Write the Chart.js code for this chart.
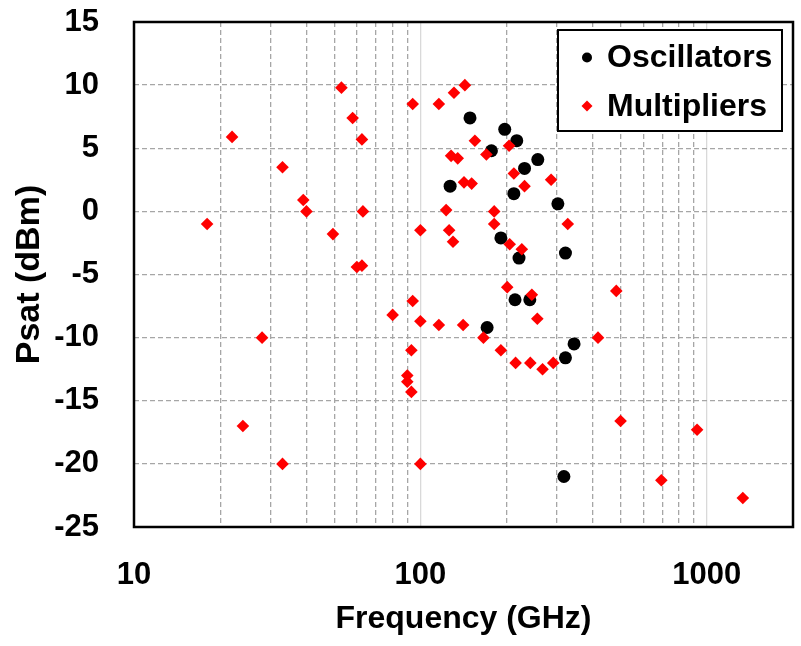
<!DOCTYPE html>
<html>
<head>
<meta charset="utf-8">
<script src="https://cdn.jsdelivr.net/npm/chart.js@4.4.1/dist/chart.umd.min.js"></script>
<style>
  html, body { margin: 0; padding: 0; background: #ffffff; }
  #wrap { width: 801px; height: 646px; position: relative; }
</style>
</head>
<body>
<div id="wrap"><canvas id="c" width="801" height="646"></canvas></div>
<script>
// ---- Data ----
const oscillatorFreq = [127, 149, 171, 177, 191, 197, 212, 214, 217, 221, 231, 241, 257, 302, 317, 321, 321, 344];
const oscillatorPsat = [2, 7.4, -9.2, 4.8, -2.1, 6.5, 1.4, -7, 5.6, -3.7, 3.4, -7, 4.1, 0.6, -21, -3.3, -11.6, -10.5];

const multiplierFreq = [18, 22, 24, 28, 33, 33, 39, 40, 49.5, 53, 58, 60, 62.5, 62.5, 63, 80, 90, 90, 93, 93,
  94, 94, 100, 100, 100, 116, 116, 123, 126, 128, 130, 131, 135, 141, 142, 143, 151, 155, 166, 170,
  181, 181, 191, 201, 204, 205, 212, 215, 226, 231, 242, 245, 256, 267, 286, 291, 327, 417, 483, 500,
  694, 925, 1336];
const multiplierPsat = [-1, 5.9, -17, -10, 3.5, -20, 0.9, 0, -1.8, 9.8, 7.4, -4.4, -4.3, 5.7, 0, -8.2, -13, -13.5, -11, -14.3,
  8.5, -7.1, -1.5, -8.7, -20, -9, 8.5, 0.1, -1.5, 4.4, -2.4, 9.4, 4.2, -9, 2.3, 10, 2.2, 5.6, -10, 4.5,
  0, -1, -11, -6, 5.2, -2.6, 3, -12, -3, 2, -12, -6.6, -8.5, -12.5, 2.5, -12, -1, -10, -6.3, -16.6,
  -21.3, -17.3, -22.7];

const seriesLabels = ['Oscillators', 'Multipliers'];
const xTickLabels = [10, 100, 1000];
const xRange = [10, 2000];
const yRange = [-25, 15];
const yStep = 5;
const xTitle = 'Frequency (GHz)';
const yTitle = 'Psat (dBm)';

// ---- Helpers ----
const FONT = "'Liberation Sans', Arial, sans-serif";
const toPoints = (xs, ys) => xs.map((x, i) => ({ x: x, y: ys[i] }));
const isDecade = (v) => Math.abs(Math.log10(v) - Math.round(Math.log10(v))) < 1e-9;
const isWholeMantissa = (v) => {
  const m = v / Math.pow(10, Math.floor(Math.log10(v) + 1e-9));
  return Math.abs(m - Math.round(m)) < 1e-6;
};

const frame = {
  id: 'frame',
  beforeDatasetsDraw(chart) {
    const { ctx, chartArea: a } = chart;
    ctx.save();
    ctx.lineWidth = 2.5;
    ctx.strokeStyle = '#000';
    ctx.strokeRect(a.left, a.top, a.right - a.left, a.bottom - a.top);
    ctx.restore();
  }
};

const boxLegend = {
  id: 'boxLegend',
  afterDraw(chart) {
    const { ctx, chartArea: a } = chart;
    const w = 224, h = 101;
    const x0 = a.right - 11 - w, y0 = a.top + 8;
    ctx.save();
    ctx.fillStyle = '#fff';
    ctx.fillRect(x0, y0, w, h);
    ctx.lineWidth = 2;
    ctx.strokeStyle = '#000';
    ctx.strokeRect(x0, y0, w, h);
    chart.data.datasets.forEach((ds, i) => {
      const cy = y0 + 27.5 + i * 48.5;
      const mx = x0 + 29;
      ctx.fillStyle = ds.backgroundColor;
      ctx.strokeStyle = ds.backgroundColor;
      Chart.helpers.drawPoint(ctx, { pointStyle: ds.pointStyle, radius: ds.pointStyle === 'circle' ? 5 : 5.5, borderWidth: 0, rotation: 0 }, mx, cy);
      ctx.fillStyle = '#000';
      ctx.font = 'bold 32px ' + FONT;
      ctx.textBaseline = 'middle';
      ctx.textAlign = 'left';
      ctx.fillText(ds.label, x0 + 49, cy + 1);
    });
    ctx.restore();
  }
};

new Chart(document.getElementById('c'), {
  type: 'scatter',
  data: {
    datasets: [
      {
        label: seriesLabels[0],
        data: toPoints(oscillatorFreq, oscillatorPsat),
        pointStyle: 'circle',
        pointRadius: 6.5,
        pointHoverRadius: 6.5,
        backgroundColor: '#000000',
        borderColor: '#000000',
        borderWidth: 0,
        order: 1
      },
      {
        label: seriesLabels[1],
        data: toPoints(multiplierFreq, multiplierPsat),
        pointStyle: 'rectRot',
        pointRadius: 6.3,
        pointHoverRadius: 6.3,
        backgroundColor: '#ff0000',
        borderColor: '#ff0000',
        borderWidth: 0,
        order: 0
      }
    ]
  },
  options: {
    responsive: false,
    animation: false,
    devicePixelRatio: 1,
    layout: { padding: { top: 22, right: 8, left: 0, bottom: 0 } },
    plugins: { legend: { display: false }, tooltip: { enabled: false } },
    scales: {
      x: {
        type: 'logarithmic',
        min: xRange[0],
        max: xRange[1],
        afterBuildTicks(scale) { scale.ticks = scale.ticks.filter((t) => isWholeMantissa(t.value)); },
        afterFit(scale) { scale.height = 119; },
        border: {
          display: false,
          dash: (ctx) => (ctx.tick && isDecade(ctx.tick.value)) ? [] : [5, 3]
        },
        grid: {
          drawTicks: true,
          tickLength: 30,
          tickColor: 'rgba(0,0,0,0)',
          lineWidth: 1.3,
          color: (ctx) => (ctx.tick && isDecade(ctx.tick.value)) ? '#d9d9d9' : '#a6a6a6'
        },
        ticks: {
          autoSkip: false,
          maxRotation: 0,
          padding: 0,
          color: '#000',
          font: { family: FONT, size: 31, weight: 'bold', lineHeight: 1.2 },
          callback: (v) => xTickLabels.some((t) => Math.abs(t - v) < 1e-6) ? String(Math.round(v)) : ''
        },
        title: {
          display: true,
          text: xTitle,
          color: '#000',
          font: { family: FONT, size: 32, weight: 'bold', lineHeight: 1.2 },
          padding: { top: 0, bottom: 8 }
        }
      },
      y: {
        min: yRange[0],
        max: yRange[1],
        afterFit(scale) { scale.width = 134; },
        border: { display: false, dash: [5, 3] },
        grid: {
          drawTicks: true,
          tickLength: 35,
          tickColor: 'rgba(0,0,0,0)',
          lineWidth: 1.3,
          color: '#a6a6a6'
        },
        ticks: {
          stepSize: yStep,
          padding: 0,
          color: '#000',
          font: { family: FONT, size: 31, weight: 'bold', lineHeight: 1.2 }
        },
        title: {
          display: true,
          text: yTitle,
          color: '#000',
          font: { family: FONT, size: 34, weight: 'bold', lineHeight: 1.2 },
          padding: { top: 9, bottom: 0 }
        }
      }
    }
  },
  plugins: [frame, boxLegend]
});
</script>
</body>
</html>
